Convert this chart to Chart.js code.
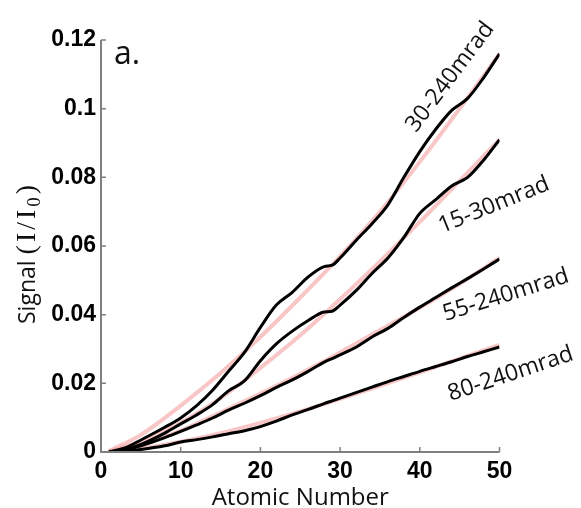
<!DOCTYPE html>
<html>
<head>
<meta charset="utf-8">
<script src="https://cdn.jsdelivr.net/npm/chart.js@4.4.1/dist/chart.umd.min.js"></script>
<style>
  body { margin: 0; background: #fff; }
  canvas { display: block; }
</style>
</head>
<body>
<canvas id="myChart" width="581" height="508"></canvas>
<script>
// simulated signal (black curves)
const atomicNumbers = [1, 3, 5, 8, 10, 12, 14, 16, 18, 20, 22, 24, 26, 28, 29, 30, 32, 34, 36, 38, 40, 42, 44, 46, 48, 50];
const signal30to240 = [0, 0.0012, 0.0035, 0.0072, 0.0099, 0.0135, 0.018, 0.0235, 0.029, 0.0363, 0.0428, 0.0465, 0.051, 0.054, 0.0544, 0.0565, 0.0616, 0.0665, 0.072, 0.080, 0.0875, 0.094, 0.0995, 0.103, 0.109, 0.116];
const signal15to30 = [0, 0.0007, 0.0022, 0.0055, 0.0082, 0.0108, 0.0138, 0.0178, 0.0207, 0.0266, 0.0315, 0.0352, 0.0383, 0.0408, 0.041, 0.0428, 0.047, 0.052, 0.0565, 0.0625, 0.0695, 0.0735, 0.0775, 0.080, 0.085, 0.091];
const signal55to240 = [0, 0.0006, 0.0018, 0.0042, 0.006, 0.0079, 0.0099, 0.0122, 0.0142, 0.0164, 0.0188, 0.021, 0.0235, 0.0262, 0.0272, 0.0283, 0.0305, 0.0335, 0.036, 0.0392, 0.0422, 0.045, 0.0478, 0.0505, 0.0533, 0.0562];
const signal80to240 = [0, 0.0002, 0.0007, 0.0018, 0.0029, 0.0036, 0.0044, 0.0053, 0.0062, 0.0074, 0.009, 0.0108, 0.0124, 0.0141, 0.0149, 0.0157, 0.0173, 0.0189, 0.0205, 0.022, 0.0235, 0.0249, 0.0263, 0.0278, 0.0292, 0.0306];

// fitted curves (pink)
const fitNumbers = [1, 5, 10, 15, 20, 25, 30, 35, 40, 45, 50];
const fit30to240 = [0.0003, 0.005, 0.0135, 0.023, 0.0335, 0.045, 0.057, 0.070, 0.0845, 0.100, 0.116];
const fit15to30 = [0.0002, 0.003, 0.0085, 0.0157, 0.0245, 0.034, 0.0445, 0.0555, 0.067, 0.079, 0.091];
const fit55to240 = [0.0001, 0.002, 0.0062, 0.0115, 0.017, 0.0228, 0.029, 0.0355, 0.042, 0.049, 0.0565];
const fit80to240 = [0.0001, 0.001, 0.003, 0.0055, 0.0085, 0.0118, 0.0155, 0.0193, 0.0232, 0.0272, 0.0312];

const xTickLabels = ['0', '10', '20', '30', '40', '50'];
const yTickLabels = ['0', '0.02', '0.04', '0.06', '0.08', '0.1', '0.12'];
const curveLabels = ['30-240mrad', '15-30mrad', '55-240mrad', '80-240mrad'];

const toPoints = (xs, ys) => xs.map((x, i) => ({ x: x, y: ys[i] }));

const black = (ys) => ({
  data: toPoints(atomicNumbers, ys),
  borderColor: '#000',
  borderWidth: 3,
  pointRadius: 0,
  cubicInterpolationMode: 'monotone',
  order: 0
});
const pink = (ys) => ({
  data: toPoints(fitNumbers, ys),
  borderColor: 'rgba(244, 160, 160, 0.6)',
  borderWidth: 4,
  pointRadius: 0,
  cubicInterpolationMode: 'monotone',
  order: 1
});

// axes, ticks and the texts on the plot
const decor = {
  id: 'decor',
  afterDraw(chart) {
    const ctx = chart.ctx;
    const xs = chart.scales.x, ys = chart.scales.y;
    const a = chart.chartArea;
    ctx.save();
    ctx.strokeStyle = '#808080';
    ctx.lineWidth = 2;
    ctx.beginPath();
    ctx.moveTo(a.left, ys.getPixelForValue(0.12));
    ctx.lineTo(a.left, a.bottom);
    ctx.lineTo(a.right, a.bottom);
    ctx.stroke();
    ctx.lineWidth = 1.5;
    ctx.beginPath();
    xs.ticks.forEach(t => {
      const px = xs.getPixelForValue(t.value);
      ctx.moveTo(px, a.bottom);
      ctx.lineTo(px, a.bottom - 5);
    });
    ys.ticks.forEach(t => {
      const py = ys.getPixelForValue(t.value);
      ctx.moveTo(a.left, py);
      ctx.lineTo(a.left + 5, py);
    });
    ctx.stroke();

    ctx.fillStyle = '#111';
    // panel letter
    ctx.font = '32px "Open Sans"';
    ctx.textAlign = 'left';
    ctx.textBaseline = 'alphabetic';
    ctx.fillText('a.', 114, 64);

    // curve labels
    const spots = [[43.8, 0.1092, -53], [49.3, 0.0719, -22], [50.8, 0.0457, -17.5], [51.4, 0.0227, -18.5]];
    ctx.font = '23px "Open Sans"';
    ctx.textAlign = 'center';
    ctx.textBaseline = 'middle';
    curveLabels.forEach((txt, i) => {
      const s = spots[i];
      ctx.save();
      ctx.translate(xs.getPixelForValue(s[0]), ys.getPixelForValue(s[1]));
      ctx.rotate(s[2] * Math.PI / 180);
      ctx.fillText(txt, 0, 0);
      ctx.restore();
    });

    // x title
    ctx.font = '24px "Open Sans"';
    ctx.textBaseline = 'alphabetic';
    ctx.fillText('Atomic Number', (a.left + a.right) / 2, 505);

    // y title, mixed fonts
    ctx.save();
    ctx.translate(35, 324);
    ctx.rotate(-Math.PI / 2);
    ctx.textAlign = 'left';
    ctx.font = '23px "Open Sans"';
    ctx.fillText('Signal', 0, 0);
    let cx = ctx.measureText('Signal ').width;
    ctx.font = '28px "Liberation Serif"';
    ['(', 'I', '/', 'I'].forEach(g => {
      ctx.fillText(g, cx, 0);
      cx += ctx.measureText(g).width + 3;
    });
    ctx.font = '19px "Liberation Serif"';
    ctx.fillText('0', cx, 5);
    cx += ctx.measureText('0').width + 3;
    ctx.font = '28px "Liberation Serif"';
    ctx.fillText(')', cx, 0);
    ctx.restore();

    ctx.restore();
  }
};

new Chart(document.getElementById('myChart'), {
  type: 'line',
  data: {
    datasets: [
      black(signal30to240), black(signal15to30), black(signal55to240), black(signal80to240),
      pink(fit30to240), pink(fit15to30), pink(fit55to240), pink(fit80to240)
    ]
  },
  options: {
    responsive: false,
    animation: false,
    layout: { padding: { top: 40, right: 81.5, bottom: 0, left: 0 } },
    plugins: { legend: { display: false }, tooltip: { enabled: false } },
    scales: {
      x: {
        type: 'linear', min: 0, max: 50,
        grid: { display: false, drawTicks: false },
        border: { display: false },
        ticks: {
          stepSize: 10, padding: 6, color: '#000',
          font: { family: 'Liberation Sans', size: 23, weight: 'bold' },
          callback: (v, i) => xTickLabels[i]
        },
        afterFit: (s) => { s.height = 56; }
      },
      y: {
        min: 0, max: 0.12,
        grid: { display: false, drawTicks: false },
        border: { display: false },
        ticks: {
          stepSize: 0.02, padding: 5, color: '#000',
          font: { family: 'Liberation Sans', size: 23, weight: 'bold' },
          callback: (v, i) => yTickLabels[i]
        },
        afterFit: (s) => { s.width = 101; }
      }
    }
  },
  plugins: [decor]
});
</script>
</body>
</html>
